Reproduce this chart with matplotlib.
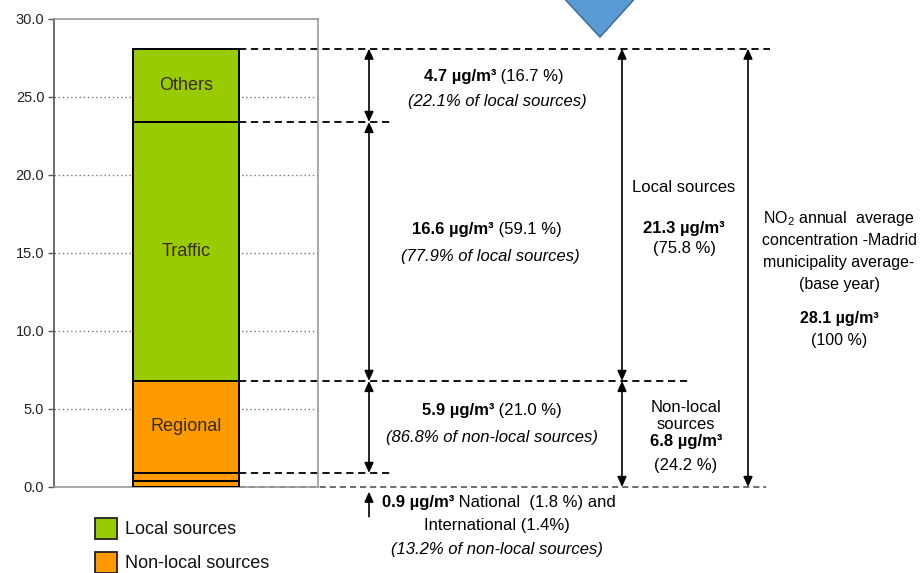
import matplotlib
matplotlib.use("Agg")
import matplotlib.pyplot as plt
import numpy as np
from matplotlib.patches import Rectangle, Polygon
from matplotlib.transforms import offset_copy

plt.rcParams['font.family'] = ['Liberation Sans', 'DejaVu Sans']
plt.rcParams['mathtext.fontset'] = 'custom'
plt.rcParams['mathtext.rm'] = 'Liberation Sans'
plt.rcParams['mathtext.it'] = 'Liberation Sans:italic'
plt.rcParams['mathtext.bf'] = 'Liberation Sans:bold'

# NO2 source apportionment (µg/m3), stacked from the bottom
segments = ["International", "National", "Regional", "Traffic", "Others"]
values = [0.4, 0.5, 5.9, 16.6, 4.7]
seg_colors = ["#FF9900", "#FF9900", "#FF9900", "#99CC00", "#99CC00"]
seg_labels = ["", "", "Regional", "Traffic", "Others"]
yticks = [0, 5, 10, 15, 20, 25, 30]

GREEN = "#99CC00"
ORANGE = "#FF9900"
NARROW = ['Liberation Sans Narrow', 'Liberation Sans', 'DejaVu Sans']
FS = 12

W, H = 921, 573
fig = plt.figure(figsize=(W / 100, H / 100), dpi=100)
ax = fig.add_axes([54 / W, 1 - 487 / H, 264 / W, 468 / H])
ax.set_xlim(0, 1)
ax.set_ylim(0, 30)

# stacked bar
bottoms = np.concatenate([[0], np.cumsum(values)[:-1]])
tops = np.cumsum(values)
for b, v, c, lab in zip(bottoms, values, seg_colors, seg_labels):
    ax.bar(0.5, v, bottom=b, width=0.4, color=c, edgecolor="black",
           linewidth=1.4, zorder=3)
    if lab:
        ax.text(0.5, b + v / 2, lab, ha="center", va="center", fontsize=13,
                family=NARROW, color="#3a2a00", zorder=4)

# axes styling
ax.set_yticks(yticks)
ax.set_yticklabels([f"{t:.1f}" for t in yticks], fontsize=10.5, color="#222222")
ax.set_xticks([])
ax.tick_params(axis="y", direction="out", length=4, width=1, color="#555555", pad=3)
for g in yticks[1:-1]:
    ax.axhline(g, color="#777777", lw=1, ls=(0, (1, 2)), zorder=1)
for s in ["top", "right", "bottom"]:
    ax.spines[s].set_color("#9a9a9a")
    ax.spines[s].set_linewidth(1.2)
ax.spines["left"].set_color("#555555")
ax.spines["left"].set_linewidth(1.2)

def dx(px):
    return (px - 54) / 264

local_top = tops[4]      # 28.1
traffic_top = tops[3]    # 23.4
nonlocal_top = tops[2]   # 6.8
natint_top = tops[1]     # 0.9

dash = (0, (4, 2.6))
kw = dict(color="black", lw=1.3, ls=dash, clip_on=False, zorder=2)
ax.plot([0.7, dx(770)], [local_top, local_top], **kw)
ax.plot([0.7, dx(390)], [traffic_top, traffic_top], **kw)
ax.plot([0.7, dx(688)], [nonlocal_top, nonlocal_top], **kw)
ax.plot([0.7, dx(390)], [natint_top, natint_top], **kw)
ax.plot([0.7, dx(766)], [0, 0], color="#444444", lw=1.1, ls=dash, clip_on=False, zorder=2)

def darrow(x, y0, y1, style="<|-|>"):
    ax.annotate("", xy=(x, y1), xytext=(x, y0), xycoords="data",
                arrowprops=dict(arrowstyle=style + ",head_length=0.6,head_width=0.27",
                                color="black", lw=1.2, shrinkA=0, shrinkB=0),
                annotation_clip=False)

xa = dx(369)
darrow(xa, traffic_top, local_top)
darrow(xa, nonlocal_top, traffic_top)
darrow(xa, natint_top, nonlocal_top)
darrow(xa, -1.9, -0.3, style="-|>")
xb = dx(622)
darrow(xb, nonlocal_top, local_top)
darrow(xb, 0, nonlocal_top)
xc = dx(748)
darrow(xc, 0, local_top)

# mixed bold/normal text lines
mixed = []
def mixed_text(x, y, bold, normal, size=FS):
    t1 = ax.text(x, y, bold, weight="bold", ha="left", va="center", fontsize=size, clip_on=False)
    t2 = ax.text(x, y, normal, ha="left", va="center", fontsize=size, clip_on=False)
    mixed.append((t1, t2))

def plain(x, y, s, size=FS, **k):
    ax.text(x, y, s, ha="center", va="center", fontsize=size, clip_on=False, **k)

mixed_text(dx(494), 26.3, "4.7 µg/m³", " (16.7 %)")
plain(dx(497), 24.7, "(22.1% of local sources)", style="italic")
mixed_text(dx(487), 16.5, "16.6 µg/m³", " (59.1 %)")
plain(dx(490), 14.8, "(77.9% of local sources)", style="italic")
mixed_text(dx(492), 4.9, "5.9 µg/m³", " (21.0 %)")
plain(dx(492), 3.2, "(86.8% of non-local sources)", style="italic")
mixed_text(dx(499), -1.0, "0.9 µg/m³", " National  (1.8 %) and")
plain(dx(497), -2.45, "International (1.4%)")
plain(dx(497), -4.0, "(13.2% of non-local sources)", style="italic")

xr = dx(684)
plain(xr, 19.2, "Local sources")
plain(xr, 16.6, "21.3 µg/m³", weight="bold")
plain(xr, 15.3, "(75.8 %)")
xr2 = dx(686)
plain(xr2, 5.1, "Non-local")
plain(xr2, 4.0, "sources")
plain(xr2, 2.9, "6.8 µg/m³", weight="bold")
plain(xr2, 1.4, "(24.2 %)")

xn = dx(839)
FN = 11.5
plain(xn, 17.2, r"NO$_2$ annual  average", size=FN)
plain(xn, 15.8, "concentration -Madrid", size=FN)
plain(xn, 14.4, "municipality average-", size=FN)
plain(xn, 13.0, "(base year)", size=FN)
plain(xn, 10.8, "28.1 µg/m³", size=FN, weight="bold")
plain(xn, 9.4, "(100 %)", size=FN)

# legend
for y0, c, lab in [(518, GREEN, "Local sources"), (552, ORANGE, "Non-local sources")]:
    fig.patches.append(Rectangle((95 / W, 1 - (y0 + 21) / H), 22 / W, 21 / H,
                                 transform=fig.transFigure, facecolor=c,
                                 edgecolor="#222222", lw=1.3))
    fig.text(125 / W, 1 - (y0 + 11) / H, lab, ha="left", va="center",
             fontsize=13, family=NARROW, color="#111111")

# pointer triangle at the top
tri = [(561 / W, 1 + 5 / H), (638 / W, 1 + 5 / H), (600 / W, 1 - 37 / H)]
fig.patches.append(Polygon(tri, closed=True, transform=fig.transFigure,
                           facecolor="#5B9BD5", edgecolor="#41719C", lw=1.2))

# centre the mixed-weight lines on their anchor
renderer = fig.canvas.get_renderer()
for t1, t2 in mixed:
    w1 = t1.get_window_extent(renderer).width
    w2 = t2.get_window_extent(renderer).width
    tot = w1 + w2
    t1.set_transform(offset_copy(ax.transData, fig=fig, x=-tot / 2, y=0, units="dots"))
    t2.set_transform(offset_copy(ax.transData, fig=fig, x=-tot / 2 + w1, y=0, units="dots"))

fig.savefig("out.png", dpi=100)
